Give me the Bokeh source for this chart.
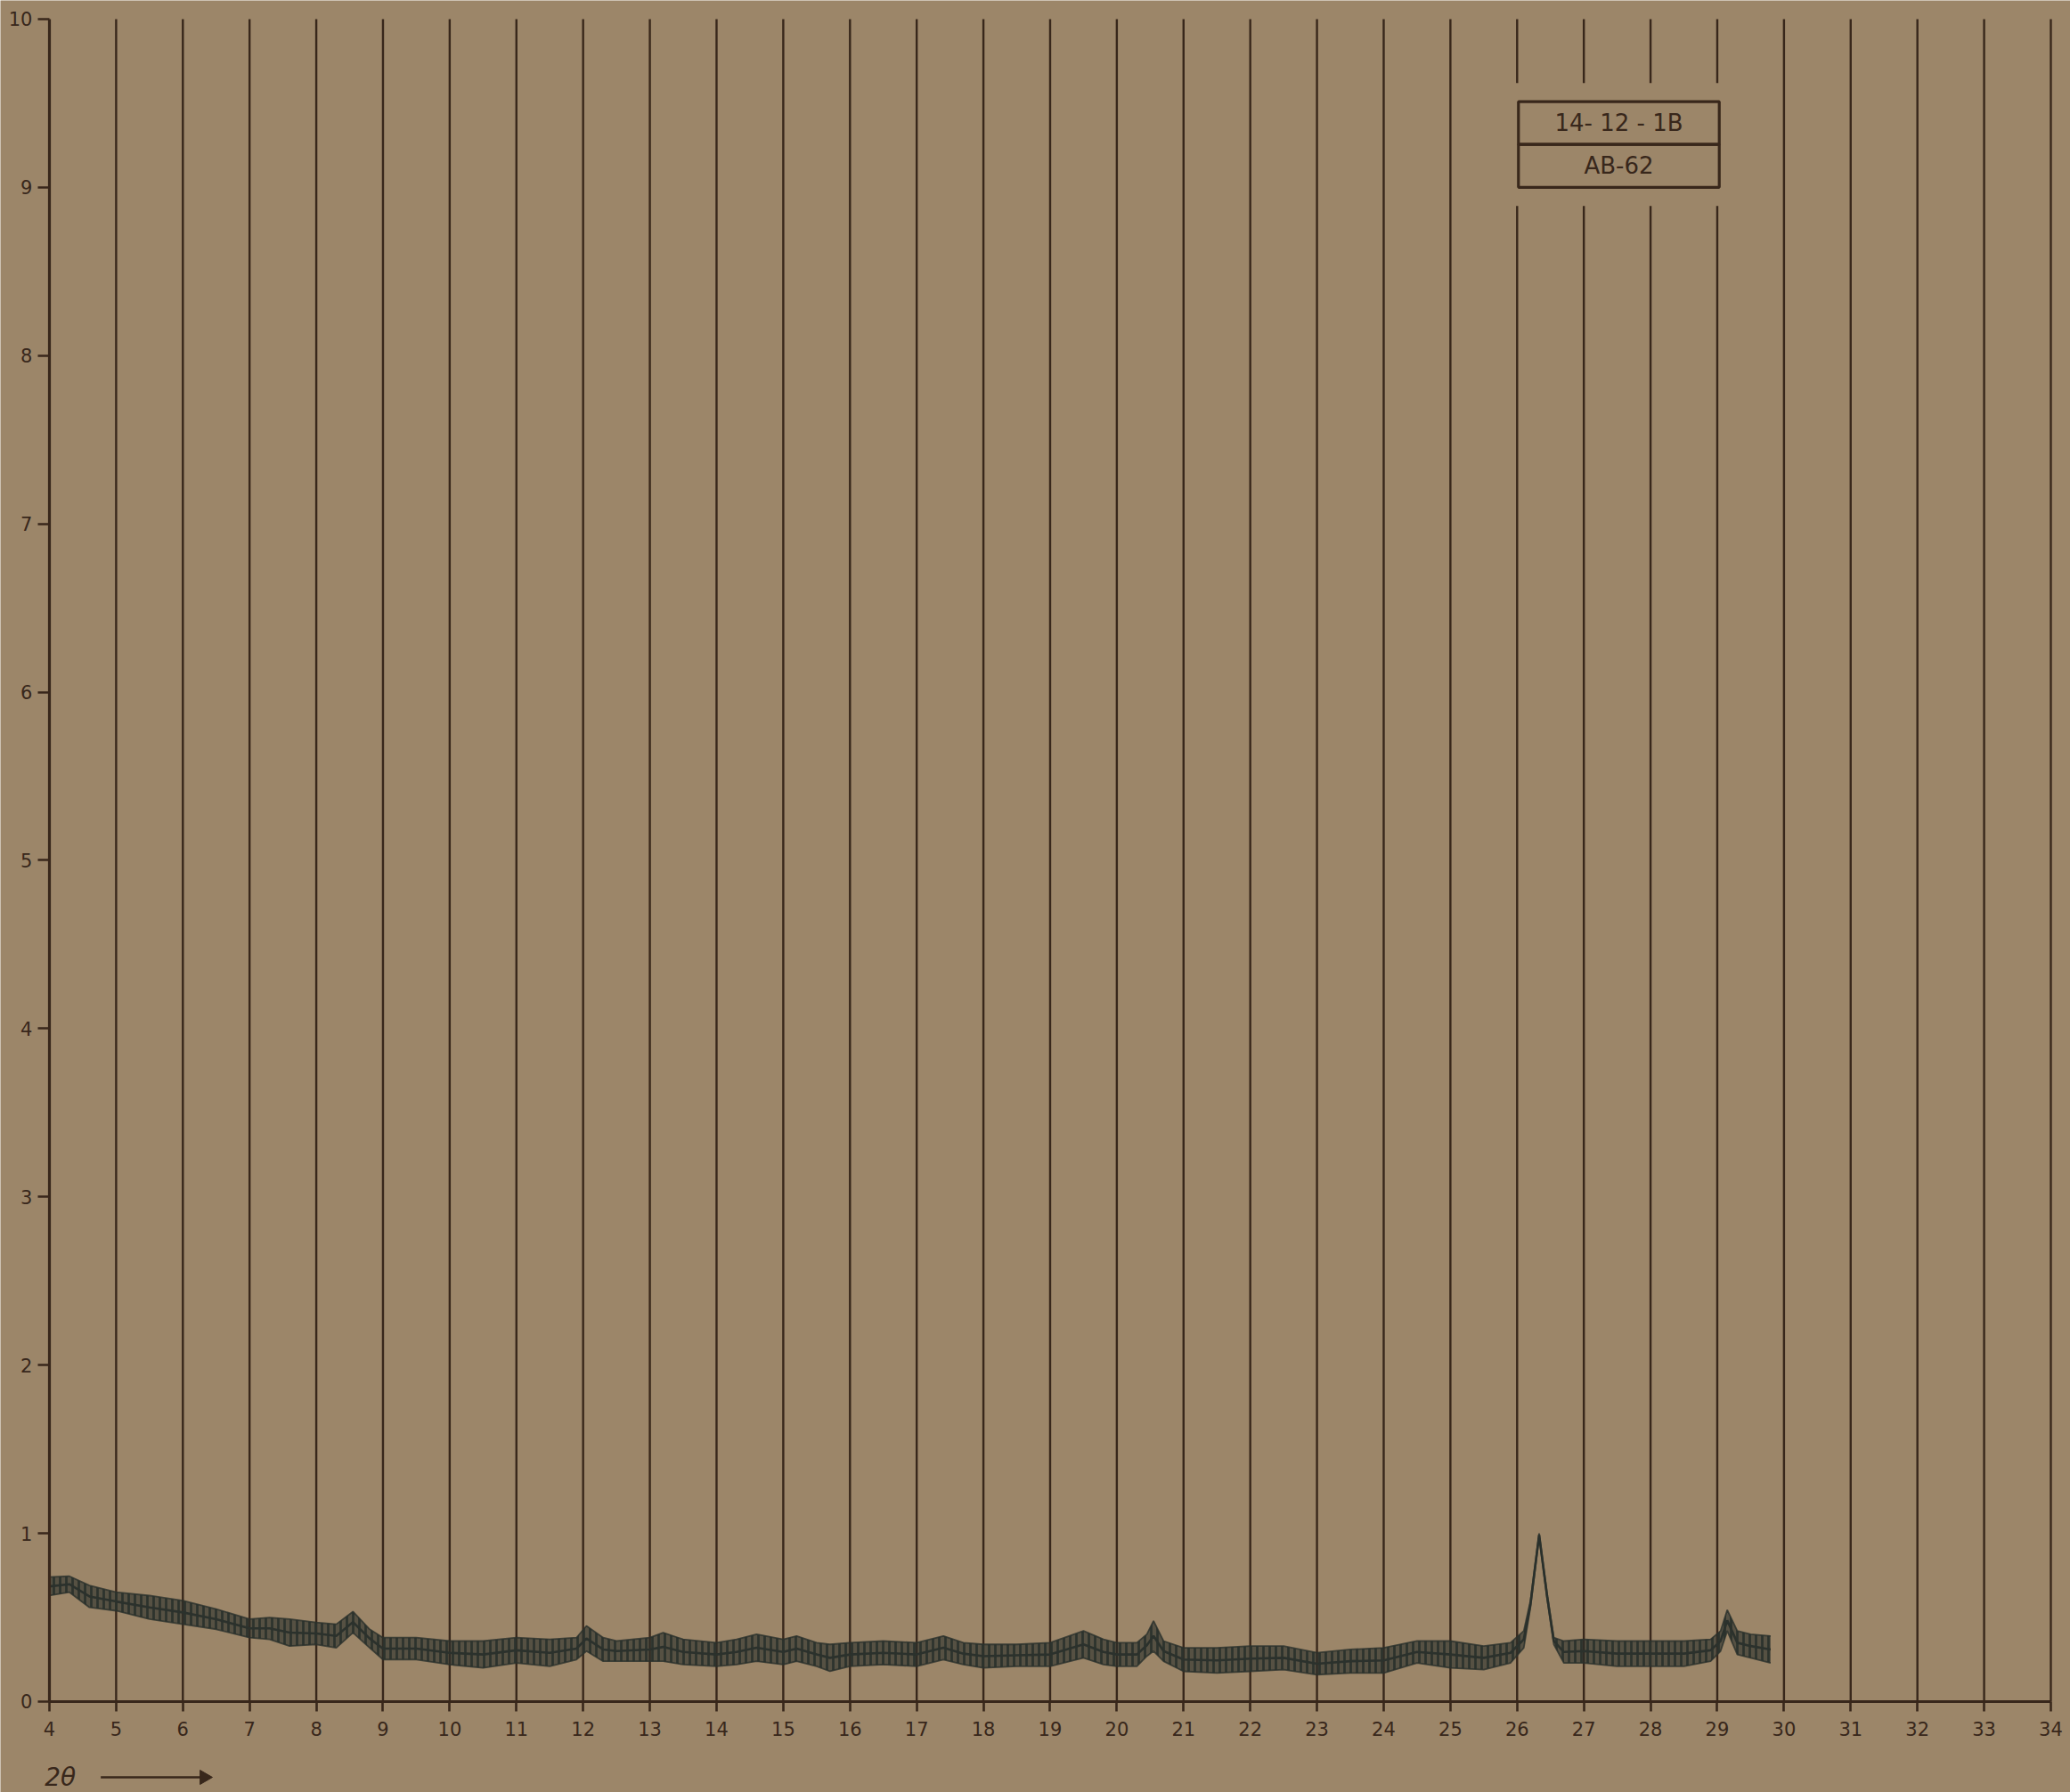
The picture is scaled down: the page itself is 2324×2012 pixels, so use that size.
import math
from bokeh.plotting import figure
from bokeh.models import (Range1d, FixedTicker, BoxAnnotation, Label, ColumnDataSource)
from bokeh.embed import file_html
from bokeh.resources import INLINE

# ---- data ----
two_theta = [4.0, 4.3, 4.6, 5.0, 5.5, 6.0, 6.5, 7.0, 7.3, 7.6, 8.0, 8.3, 8.55, 8.8,
             9.0, 9.5, 10.0, 10.5, 11.0, 11.5, 11.9, 12.05, 12.3, 12.5, 13.0, 13.2,
             13.5, 14.0, 14.3, 14.6, 15.0, 15.2, 15.5, 15.7, 16.0, 16.5, 17.0, 17.4,
             17.7, 18.0, 18.5, 19.0, 19.5, 19.8, 20.0, 20.3, 20.45, 20.55, 20.7, 21.0,
             21.5, 22.0, 22.5, 23.0, 23.5, 24.0, 24.5, 25.0, 25.5, 25.9, 26.1, 26.2,
             26.33, 26.45, 26.55, 26.7, 27.0, 27.5, 28.0, 28.5, 28.9, 29.05, 29.15,
             29.3, 29.5, 29.8]
low = [0.63, 0.65, 0.56, 0.54, 0.49, 0.46, 0.43, 0.38, 0.37, 0.33, 0.34, 0.32, 0.41, 0.32,
       0.25, 0.25, 0.22, 0.20, 0.23, 0.21, 0.25, 0.30, 0.24, 0.24, 0.24, 0.24,
       0.22, 0.21, 0.22, 0.24, 0.22, 0.24, 0.21, 0.18, 0.21, 0.22, 0.21, 0.25,
       0.22, 0.20, 0.21, 0.21, 0.26, 0.22, 0.21, 0.21, 0.27, 0.30, 0.24, 0.18,
       0.17, 0.18, 0.19, 0.16, 0.17, 0.17, 0.23, 0.20, 0.19, 0.23, 0.32, 0.56,
       0.98, 0.61, 0.34, 0.23, 0.23, 0.21, 0.21, 0.21, 0.24, 0.30, 0.42,
       0.28, 0.26, 0.23]
high = [0.74, 0.745, 0.69, 0.65, 0.63, 0.60, 0.55, 0.49, 0.50, 0.49, 0.47, 0.46, 0.535, 0.43,
        0.38, 0.38, 0.36, 0.36, 0.38, 0.37, 0.38, 0.45, 0.38, 0.36, 0.38, 0.41,
        0.37, 0.35, 0.37, 0.40, 0.37, 0.39, 0.35, 0.34, 0.35, 0.36, 0.35, 0.39,
        0.35, 0.34, 0.34, 0.35, 0.42, 0.37, 0.35, 0.35, 0.40, 0.48, 0.36, 0.32,
        0.32, 0.33, 0.33, 0.29, 0.31, 0.32, 0.36, 0.36, 0.33, 0.35, 0.42, 0.60,
        1.00, 0.64, 0.38, 0.36, 0.37, 0.36, 0.36, 0.36, 0.37, 0.42, 0.545,
        0.42, 0.40, 0.39]
mid = [(a + b) / 2 for a, b in zip(low, high)]

x_ticks = list(range(4, 35))
y_ticks = list(range(0, 11))
box_lines = ["14- 12 - 1B", "AB-62"]
caption = "2θ"

# ---- styling ----
BG = "#9c8669"
INK = "#38271b"
TRACE = "#2b312c"
FONT = "DejaVu Sans"

X_MIN, X_MAX = 4, 34
Y_MIN, Y_MAX = 0, 10
# visible window slightly larger than the axes, so labels/caption fit around them
p = figure(width=2324, height=2012, output_backend="svg", toolbar_location=None,
           x_range=Range1d(3.266, 34.294), y_range=Range1d(-0.54, 10.111),
           min_border_left=0, min_border_right=0, min_border_top=0,
           min_border_bottom=0)
p.background_fill_color = BG
p.border_fill_color = BG
p.outline_line_color = None
p.xgrid.grid_line_color = None
p.ygrid.grid_line_color = None

for ax in (p.xaxis[0], p.yaxis[0]):
    ax.axis_line_color = INK
    ax.axis_line_width = 3.2
    ax.major_tick_line_color = INK
    ax.major_tick_line_width = 2.6
    ax.minor_tick_line_color = None
    ax.major_tick_in = 0
    ax.major_label_text_color = INK
    ax.major_label_text_font = FONT
    ax.major_label_text_font_size = "21px"

p.xaxis.ticker = FixedTicker(ticks=x_ticks)
p.xaxis.fixed_location = Y_MIN
p.xaxis.bounds = (X_MIN, X_MAX)
p.xaxis.major_tick_out = 11
p.xaxis.major_label_standoff = 12
p.yaxis.ticker = FixedTicker(ticks=y_ticks)
p.yaxis.fixed_location = X_MIN
p.yaxis.bounds = (Y_MIN, Y_MAX)
p.yaxis.major_tick_out = 13
p.yaxis.major_label_standoff = 6

# vertical chart-paper lines, one per degree, interrupted around the label box
gap_left, gap_right, gap_bottom, gap_top = 25.95, 29.08, 8.89, 9.62
box_left, box_right, box_bottom, box_mid, box_top = 26.02, 29.03, 9.0, 9.255, 9.51
grid_x = x_ticks[1:]
full = [t for t in grid_x if not (gap_left < t < gap_right)]
broken = [t for t in grid_x if gap_left < t < gap_right]
p.segment(x0=full, y0=[Y_MIN] * len(full), x1=full, y1=[Y_MAX] * len(full),
          line_color=INK, line_width=2.4)
p.segment(x0=broken, y0=[Y_MIN] * len(broken), x1=broken, y1=[gap_bottom] * len(broken),
          line_color=INK, line_width=2.4)
p.segment(x0=broken, y0=[gap_top] * len(broken), x1=broken, y1=[Y_MAX] * len(broken),
          line_color=INK, line_width=2.4)

# trace: zig-zag band (envelope) with vertical-stroke texture
src = ColumnDataSource(dict(x=two_theta, lo=low, hi=high, mid=mid))
p.varea(x="x", y1="lo", y2="hi", source=src, fill_color=TRACE, fill_alpha=0.62,
        hatch_pattern="|", hatch_color=TRACE, hatch_scale=7, hatch_weight=2.8,
        hatch_alpha=0.95)
p.line(x="x", y="mid", source=src, line_color=TRACE, line_width=2.6)
p.line(x="x", y="lo", source=src, line_color=TRACE, line_width=1.8, line_alpha=0.8)
p.line(x="x", y="hi", source=src, line_color=TRACE, line_width=1.8, line_alpha=0.8)

# label box
p.add_layout(BoxAnnotation(left=box_left, right=box_right, bottom=box_mid, top=box_top,
                           fill_alpha=0, line_color=INK, line_alpha=1, line_width=3.2))
p.add_layout(BoxAnnotation(left=box_left, right=box_right, bottom=box_bottom, top=box_mid,
                           fill_alpha=0, line_color=INK, line_alpha=1, line_width=3.2))
mid_x = (box_left + box_right) / 2
p.add_layout(Label(x=mid_x, y=(box_mid + box_top) / 2, text=box_lines[0],
                   text_align="center", text_baseline="middle", text_color=INK,
                   text_font=FONT, text_font_size="26px"))
p.add_layout(Label(x=mid_x, y=(box_bottom + box_mid) / 2, text=box_lines[1],
                   text_align="center", text_baseline="middle", text_color=INK,
                   text_font=FONT, text_font_size="26px"))

# axis caption "2θ →"
cap_y = -0.45
p.add_layout(Label(x=3.93, y=cap_y, text=caption, text_align="left", text_baseline="middle",
                   text_color=INK, text_font=FONT, text_font_size="28px",
                   text_font_style="italic"))
p.line(x=[4.77, 6.3], y=[cap_y, cap_y], line_color=INK, line_width=2.4)
p.scatter(x=[6.32], y=[cap_y], marker="triangle", angle=-math.pi / 2, size=16,
          fill_color=INK, line_color=INK)

open("out.html", "w").write(file_html(p, INLINE))
